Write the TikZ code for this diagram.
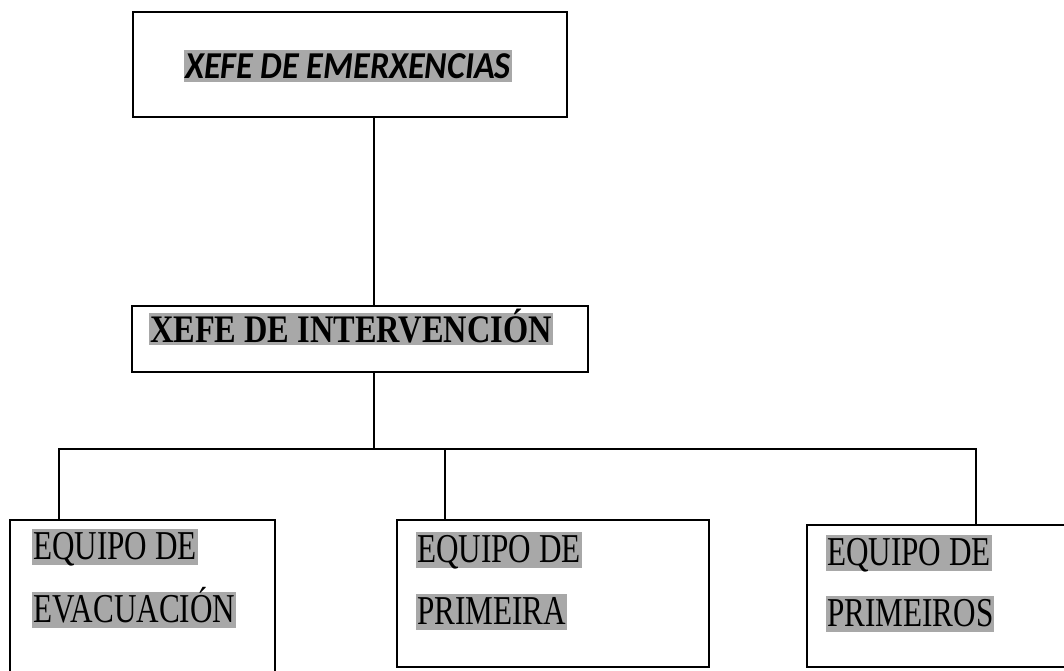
\documentclass[tikz,border=0pt]{standalone}
\usepackage{fontspec}
\setmainfont{Liberation Serif}
\newfontfamily\calib[FakeStretch=0.9]{Carlito}
\newfontfamily\timesb[FakeStretch=0.83]{Liberation Serif}
\newfontfamily\timesn[FakeStretch=0.76]{Liberation Serif}
\usepackage{tikz}
\definecolor{hl}{HTML}{A8A8A8}
\tikzset{
  every picture/.style={line join=miter, line cap=rect},
  box/.style={draw, line width=1.7pt, fill=white, inner sep=0pt},
  link/.style={line width=1.4pt},
  mark1/.style={fill=hl, inner xsep=1pt, inner ysep=0pt},
  bosstext/.style={mark1, text height=28pt, text depth=4pt, font=\calib\bfseries\itshape\fontsize{38}{40}\selectfont},
  headtext/.style={mark1, text height=29pt, text depth=3pt, font=\timesb\bfseries\fontsize{39}{41}\selectfont},
  teamtext/.style={mark1, anchor=west, text height=30pt, text depth=6pt, font=\timesn\fontsize{41}{43}\selectfont},
}
\begin{document}
\begin{tikzpicture}[x=1pt,y=-1pt]
\clip (0,0) rectangle (1064,670);
\fill[white] (0,0) rectangle (1064,670);
% boxes
\node[box, minimum width=434pt, minimum height=105pt] (emer) at (350,64.5) {};
\node[box, minimum width=456pt, minimum height=66pt] (interv) at (360,339) {};
\node[box, minimum width=265pt, minimum height=160pt] (evac) at (142.5,600) {};
\node[box, minimum width=312pt, minimum height=147pt] (auxa) at (553,593.5) {};
\node[box, minimum width=270pt, minimum height=142pt] (auxb) at (942,596) {};
% labels
\node[bosstext] (temer) at (348,66) {XEFE DE EMERXENCIAS};
\node[headtext] (tinterv) at (351,329) {XEFE DE INTERVENCIÓN};
\node[teamtext] (tevac1) at (32,547) {EQUIPO DE};
\node[teamtext] (tevac2) at (32,610) {EVACUACIÓN};
\node[teamtext] (tauxa1) at (416,550) {EQUIPO DE};
\node[teamtext] (tauxa2) at (416,612) {PRIMEIRA};
\node[teamtext] (tauxb1) at (826,553) {EQUIPO DE};
\node[teamtext] (tauxb2) at (826,614) {PRIMEIROS};
% connectors
\coordinate (trunk) at (374,449);
\coordinate (barl) at (59,449);
\coordinate (barm) at (445,449);
\coordinate (barr) at (976,449);
\draw[link] (emer.south -| trunk) -- (interv.north -| trunk);
\draw[link] (interv.south -| trunk) -- (trunk);
\draw[link] (barl) -- (barr);
\draw[link] (barl) -- (evac.north -| barl);
\draw[link] (barm) -- (auxa.north -| barm);
\draw[link] (barr) -- (auxb.north -| barr);
\end{tikzpicture}
\end{document}
